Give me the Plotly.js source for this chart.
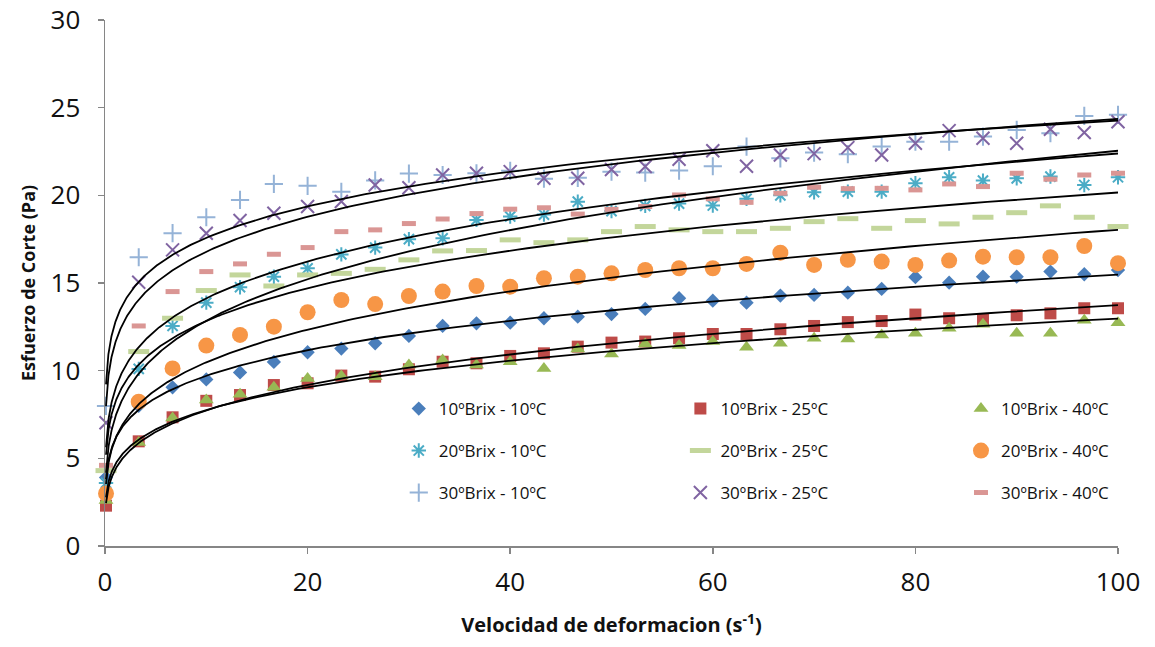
<!DOCTYPE html>
<html>
<head>
<meta charset="utf-8">
<script src="https://cdn.plot.ly/plotly-3.0.1.min.js"></script>
<style>
  html, body { margin: 0; padding: 0; background: #ffffff; }
  #chart { width: 1155px; height: 647px; }
</style>
</head>
<body>
<div id="chart"></div>
<script>
// Shear rate (s^-1); the first reading is taken just above zero
const shearRate = [0.1, 3.33, 6.67, 10, 13.33, 16.67, 20, 23.33, 26.67, 30, 33.33, 36.67, 40, 43.33, 46.67, 50,
  53.33, 56.67, 60, 63.33, 66.67, 70, 73.33, 76.67, 80, 83.33, 86.67, 90, 93.33, 96.67, 100];

// Shear stress (Pa) per sample
const brix10_t10 = [3.9, 8.0, 9.05, 9.5, 9.9, 10.5, 11.05, 11.26, 11.56, 11.98, 12.55, 12.7, 12.74, 12.99, 13.08, 13.23,
  13.52, 14.13, 13.99, 13.88, 14.28, 14.32, 14.45, 14.66, 15.33, 15.02, 15.36, 15.36, 15.65, 15.5, 15.74];
const brix10_t25 = [2.3, 5.97, 7.34, 8.28, 8.61, 9.18, 9.28, 9.72, 9.66, 10.08, 10.51, 10.42, 10.84, 10.99, 11.37, 11.6,
  11.66, 11.85, 12.09, 12.09, 12.36, 12.55, 12.77, 12.83, 13.2, 12.99, 12.89, 13.16, 13.27, 13.56, 13.56];
const brix10_t40 = [2.6, 5.9, 7.3, 8.33, 8.65, 9.05, 9.56, 9.7, 9.66, 10.33, 10.61, 10.33, 10.51, 10.13, 11.24, 10.95,
  11.52, 11.43, 11.66, 11.33, 11.56, 11.85, 11.8, 12.04, 12.13, 12.42, 12.65, 12.13, 12.13, 12.87, 12.73];
const brix20_t10 = [3.6, 10.1, 12.55, 13.88, 14.76, 15.36, 15.84, 16.63, 17.02, 17.5, 17.55, 18.6, 18.79, 18.9, 19.64, 19.1,
  19.4, 19.53, 19.42, 19.8, 20.0, 20.18, 20.21, 20.21, 20.69, 21.03, 20.84, 20.97, 21.07, 20.59, 21.03];
const brix20_t25 = [4.3, 11.09, 12.99, 14.57, 15.46, 14.83, 15.46, 15.55, 15.78, 16.32, 16.83, 16.85, 17.46, 17.3, 17.46, 17.93,
  18.22, 18.03, 17.93, 17.93, 18.12, 18.5, 18.67, 18.12, 18.56, 18.37, 18.75, 19.01, 19.4, 18.75, 18.22];
const brix20_t40 = [3.0, 8.23, 10.13, 11.43, 12.04, 12.51, 13.33, 14.03, 13.8, 14.26, 14.51, 14.83, 14.79, 15.27, 15.36, 15.55,
  15.74, 15.84, 15.84, 16.09, 16.73, 16.03, 16.32, 16.22, 16.03, 16.28, 16.5, 16.47, 16.47, 17.11, 16.13];
const brix30_t10 = [7.99, 16.47, 17.84, 18.75, 19.74, 20.65, 20.54, 20.2, 20.85, 21.24, 21.16, 21.26, 21.4, 20.95, 21.0, 21.35,
  21.3, 21.41, 21.66, 22.78, 22.11, 22.44, 22.35, 22.78, 23.06, 23.06, 23.35, 23.73, 23.54, 24.53, 24.59];
const brix30_t25 = [7.03, 15.04, 16.89, 17.84, 18.56, 18.98, 19.36, 19.65, 20.59, 20.43, 21.16, 21.26, 21.35, 20.97, 20.97, 21.47,
  21.64, 22.06, 22.54, 21.66, 22.3, 22.38, 22.72, 22.3, 22.97, 23.69, 23.26, 22.97, 23.77, 23.58, 24.2];
const brix30_t40 = [4.6, 12.55, 14.51, 15.65, 16.09, 16.64, 17.02, 17.93, 18.03, 18.39, 18.65, 18.96, 19.21, 19.29, 18.93, 19.2,
  19.36, 20.02, 19.8, 19.6, 20.12, 20.46, 20.38, 20.4, 20.31, 20.65, 20.5, 21.26, 20.92, 21.16, 21.26];

const seriesNames = ['10ºBrix - 10ºC', '10ºBrix - 25ºC', '10ºBrix - 40ºC',
                     '20ºBrix - 10ºC', '20ºBrix - 25ºC', '20ºBrix - 40ºC',
                     '30ºBrix - 10ºC', '30ºBrix - 25ºC', '30ºBrix - 40ºC'];
const seriesValues = [brix10_t10, brix10_t25, brix10_t40, brix20_t10, brix20_t25, brix20_t40, brix30_t10, brix30_t25, brix30_t40];

const xTitle = 'Velocidad de deformacion (s<sup>-1</sup>)';
const yTitle = 'Esfuerzo de Corte (Pa)';

// ---- styling ----
const markerStyles = [
  {symbol: 'diamond', size: 11, color: '#4A7EBB'},
  {symbol: 'square', size: 12, color: '#BE4B48'},
  {symbol: 'triangle-up', size: 13, color: '#98B954'},
  {symbol: 'asterisk-open', size: 12, color: '#4BACC6', line: {color: '#4BACC6', width: 2}},
  {symbol: 'line-ew-open', size: 15, color: '#C3D69B', line: {color: '#C3D69B', width: 5}},
  {symbol: 'circle', size: 16, color: '#F79646'},
  {symbol: 'cross-thin-open', size: 13, color: '#95B3D7', line: {color: '#95B3D7', width: 2}},
  {symbol: 'x-thin-open', size: 13, color: '#8064A2', line: {color: '#8064A2', width: 2}},
  {symbol: 'line-ew-open', size: 10, color: '#DA9694', line: {color: '#DA9694', width: 5}}
];

// Power trendline (least squares on ln x, ln y), as the spreadsheet does
function powerFit(xs, ys) {
  let n = xs.length, sx = 0, sy = 0, sxx = 0, sxy = 0;
  for (let i = 0; i < n; i++) {
    const lx = Math.log(xs[i]), ly = Math.log(ys[i]);
    sx += lx; sy += ly; sxx += lx * lx; sxy += lx * ly;
  }
  const b = (n * sxy - sx * sy) / (n * sxx - sx * sx);
  const a = Math.exp((sy - b * sx) / n);
  return {a, b};
}
const xMin = shearRate[0], xMax = shearRate[shearRate.length - 1];
const curveX = [];
for (let k = 0; k <= 300; k++) curveX.push(xMin * Math.pow(xMax / xMin, k / 300));

const fontFam = '"Open Sans", "Noto Sans", sans-serif';
const traces = [];
seriesValues.forEach((ys, i) => {
  const legId = i === 0 ? 'legend' : 'legend' + (i + 1);
  const ms = markerStyles[i];
  traces.push({
    type: 'scatter', mode: 'markers', name: seriesNames[i], x: shearRate, y: ys,
    legend: legId,
    marker: {symbol: ms.symbol, size: ms.size, color: ms.color, line: ms.line || {width: 0}},
    cliponaxis: false
  });
});
seriesValues.forEach((ys, i) => {
  const f = powerFit(shearRate, ys);
  traces.push({
    type: 'scatter', mode: 'lines', showlegend: false, hoverinfo: 'skip',
    x: curveX, y: curveX.map(x => f.a * Math.pow(x, f.b)),
    line: {color: '#000000', width: 1.8}
  });
});

// legend placement: 3 columns x 3 rows inside the plot
const colX = [0.29, 0.568, 0.845];
const rowY = [0.2605, 0.1806, 0.1008];
const layout = {
  width: 1155, height: 647,
  margin: {l: 105, r: 37, t: 20, b: 101},
  paper_bgcolor: '#ffffff', plot_bgcolor: '#ffffff',
  font: {family: fontFam, color: '#111111'},
  showlegend: true,
  xaxis: {
    range: [0, 100], dtick: 20, tick0: 0, showgrid: false, zeroline: false,
    showline: true, linecolor: '#868686', linewidth: 1.5,
    ticks: 'outside', ticklen: 6, tickcolor: '#868686', tickwidth: 1.5,
    tickfont: {size: 26, color: '#111111'}, ticklabelstandoff: 6,
    title: {text: xTitle, font: {size: 20, color: '#111111', weight: 'bold'}, standoff: 20}
  },
  yaxis: {
    range: [0, 30], dtick: 5, tick0: 0, showgrid: false, zeroline: false,
    showline: true, linecolor: '#868686', linewidth: 1.5,
    ticks: 'outside', ticklen: 6, tickcolor: '#868686', tickwidth: 1.5,
    tickfont: {size: 26, color: '#111111'}, ticklabelstandoff: 12,
    title: {text: yTitle, font: {size: 18, color: '#111111', weight: 'bold'}, standoff: 10}
  }
};
for (let i = 0; i < 9; i++) {
  const key = i === 0 ? 'legend' : 'legend' + (i + 1);
  layout[key] = {
    x: colX[i % 3], y: rowY[Math.floor(i / 3)], xanchor: 'left', yanchor: 'middle',
    bgcolor: 'rgba(0,0,0,0)', borderwidth: 0,
    font: {size: 17, color: '#111111', family: fontFam},
    itemwidth: 30
  };
}

Plotly.newPlot('chart', traces, layout, {displayModeBar: false, staticPlot: true});
</script>
</body>
</html>
